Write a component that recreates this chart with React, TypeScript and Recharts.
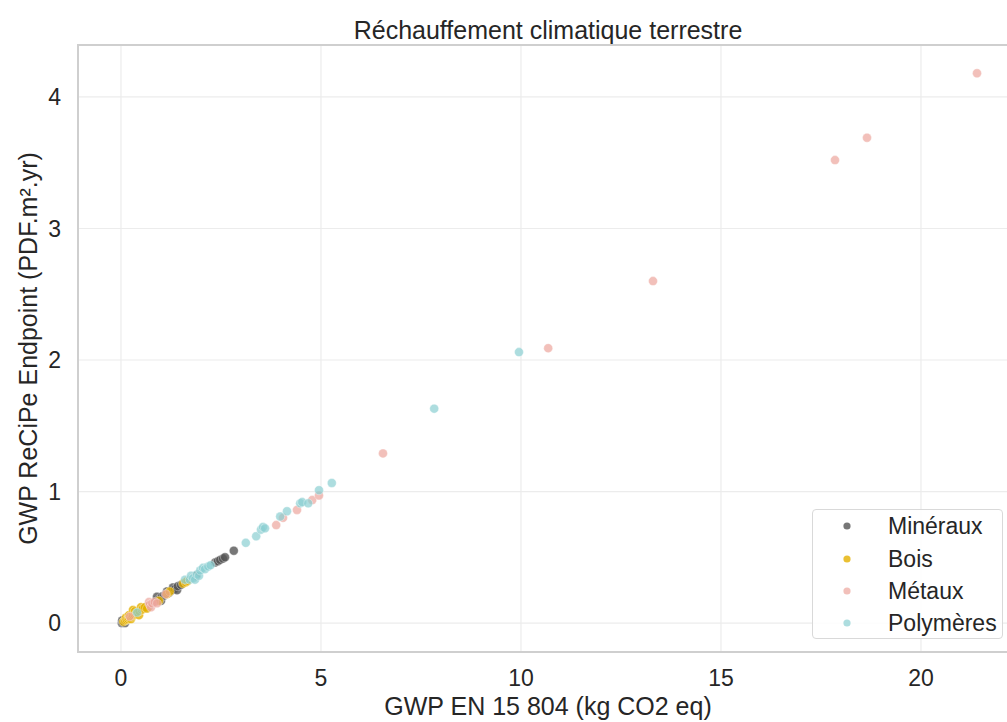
import {
  ScatterChart,
  Scatter,
  XAxis,
  YAxis,
  CartesianGrid,
  Legend,
  ReferenceArea,
} from 'recharts';

// [GWP EN 15 804, GWP ReCiPe Endpoint]
const mineraux = [
  [0.02, 0.0], [0.03, 0.02], [0.05, 0.005], [0.08, 0.01], [0.1, 0.0],
  [0.12, 0.02], [0.35, 0.07], [0.62, 0.12], [0.7, 0.13], [0.88, 0.17],
  [0.9, 0.2], [0.95, 0.18], [1.0, 0.17], [1.02, 0.2], [1.08, 0.21],
  [1.15, 0.24], [1.2, 0.23], [1.28, 0.25], [1.3, 0.27], [1.35, 0.26],
  [1.4, 0.25], [1.42, 0.28], [1.5, 0.29], [1.88, 0.36], [2.35, 0.46],
  [2.42, 0.47], [2.48, 0.48], [2.55, 0.49], [2.6, 0.5], [2.82, 0.55],
];

const bois = [
  [0.06, 0.01], [0.1, 0.02], [0.12, 0.04], [0.14, 0.025], [0.18, 0.03],
  [0.2, 0.04], [0.2, 0.06], [0.24, 0.045], [0.25, 0.03], [0.28, 0.05],
  [0.3, 0.06], [0.3, 0.1], [0.34, 0.065], [0.35, 0.09], [0.38, 0.07],
  [0.42, 0.08], [0.45, 0.06], [0.46, 0.09], [0.5, 0.12], [0.52, 0.1],
  [0.55, 0.11], [0.6, 0.12], [0.65, 0.11], [0.95, 0.17], [1.15, 0.22],
  [1.22, 0.24], [1.55, 0.3], [1.62, 0.31], [1.66, 0.32],
];

const metaux = [
  [0.22, 0.05], [0.7, 0.16], [0.72, 0.14], [0.75, 0.12], [0.78, 0.15],
  [0.84, 0.16], [0.9, 0.15], [1.12, 0.22], [3.88, 0.745], [4.05, 0.8],
  [4.4, 0.86], [4.78, 0.935], [4.95, 0.97], [6.55, 1.29], [10.68, 2.09],
  [13.3, 2.6], [17.85, 3.52], [18.65, 3.69], [21.4, 4.18],
];

const polymeres = [
  [0.4, 0.08], [1.6, 0.33], [1.72, 0.33], [1.75, 0.36], [1.8, 0.34],
  [1.85, 0.33], [1.9, 0.37], [1.95, 0.36], [1.98, 0.4], [2.05, 0.42],
  [2.1, 0.41], [2.18, 0.43], [2.24, 0.44], [3.12, 0.61], [3.38, 0.66],
  [3.5, 0.71], [3.55, 0.73], [3.6, 0.72], [3.98, 0.81], [4.15, 0.85],
  [4.48, 0.91], [4.53, 0.92], [4.68, 0.91], [4.95, 1.01], [5.27, 1.065],
  [7.83, 1.63], [9.95, 2.06],
];

const xTicks = [0, 5, 10, 15, 20];
const yTicks = [0, 1, 2, 3, 4];
const xDomain: [number, number] = [-1.075, 22.425];
const yDomain: [number, number] = [-0.22, 4.395];

const FONT = '"Liberation Sans", Arial, sans-serif';
const TEXT = '#262626';

const series = [
  { name: 'Minéraux', data: mineraux, color: '#555555', opacity: 0.8 },
  { name: 'Bois', data: bois, color: '#e5b000', opacity: 0.8 },
  { name: 'Métaux', data: metaux, color: '#eda59c', opacity: 0.7 },
  { name: 'Polymères', data: polymeres, color: '#8acfd2', opacity: 0.7 },
];

const toPoints = (rows: number[][]) => rows.map(([x, y]) => ({ x, y }));

const dot = (color: string, opacity: number) => (props: any) => (
  <circle
    cx={props.cx}
    cy={props.cy}
    r={4.5}
    fill={color}
    fillOpacity={opacity}
    stroke="#ffffff"
    strokeOpacity={0.6}
    strokeWidth={0.6}
  />
);

const LegendBox = () => (
  <div
    style={{
      width: 191,
      height: 130,
      boxSizing: 'border-box',
      background: 'rgba(255,255,255,0.85)',
      border: '1px solid #d9d9d9',
      borderRadius: 4,
      fontFamily: FONT,
      fontSize: 23,
      color: TEXT,
    }}
  >
    {series.map((s) => (
      <div key={s.name} style={{ display: 'flex', alignItems: 'center', height: 32.4 }}>
        <svg width={75} height={32} style={{ flex: 'none' }}>
          <circle cx={34} cy={16} r={3.6} fill={s.color} fillOpacity={s.opacity} />
        </svg>
        <span style={{ lineHeight: '32px' }}>{s.name}</span>
      </div>
    ))}
  </div>
);

export default function App() {
  return (
    <div
      style={{
        position: 'absolute',
        left: 0,
        top: 0,
        width: 1007,
        height: 722,
        overflow: 'hidden',
        background: '#ffffff',
      }}
    >
      <div
        style={{
          position: 'absolute',
          left: 548,
          top: 18,
          transform: 'translateX(-50%)',
          whiteSpace: 'nowrap',
          fontFamily: FONT,
          fontSize: 25,
          lineHeight: '25px',
          color: TEXT,
        }}
      >
        Réchauffement climatique terrestre
      </div>
      <ScatterChart
        width={1030}
        height={722}
        margin={{ top: 45, right: 12, bottom: 0, left: 0 }}
      >
        <CartesianGrid stroke="#ececec" strokeWidth={1.2} />
        <XAxis
          type="number"
          dataKey="x"
          domain={xDomain}
          ticks={xTicks}
          allowDataOverflow
          height={70}
          axisLine={false}
          tickLine={false}
          tickSize={0}
          tickMargin={18}
          tick={{ fill: TEXT, fontSize: 23, fontFamily: FONT }}
          label={{
            content: (p: any) => {
              const { x, y, width } = p.viewBox;
              return (
                <text
                  x={x + width / 2}
                  y={y + 63}
                  textAnchor="middle"
                  fill={TEXT}
                  fontSize={25}
                  fontFamily={FONT}
                >
                  GWP EN 15 804 (kg CO2 eq)
                </text>
              );
            },
          }}
        />
        <YAxis
          type="number"
          dataKey="y"
          domain={yDomain}
          ticks={yTicks}
          allowDataOverflow
          width={78}
          axisLine={false}
          tickLine={false}
          tickSize={0}
          tickMargin={17}
          tick={{ fill: TEXT, fontSize: 23, fontFamily: FONT }}
          label={{
            content: (p: any) => {
              const { x, y, height } = p.viewBox;
              const cx = x + 37;
              const cy = y + height / 2;
              return (
                <text
                  x={cx}
                  y={cy}
                  transform={`rotate(-90 ${cx} ${cy})`}
                  textAnchor="middle"
                  fill={TEXT}
                  fontSize={25}
                  fontFamily={FONT}
                >
                  GWP ReCiPe Endpoint (PDF.m².yr)
                </text>
              );
            },
          }}
        />
        <ReferenceArea
          x1={xDomain[0]}
          x2={xDomain[1]}
          y1={yDomain[0]}
          y2={yDomain[1]}
          fill="none"
          stroke="#cfcfcf"
          strokeWidth={2}
        />
        {series.map((s) => (
          <Scatter
            key={s.name}
            name={s.name}
            data={toPoints(s.data)}
            fill={s.color}
            shape={dot(s.color, s.opacity)}
            isAnimationActive={false}
          />
        ))}
        <Legend
          layout="vertical"
          align="center"
          verticalAlign="middle"
          content={<LegendBox />}
          wrapperStyle={{ left: 812, top: 509, width: 191, height: 130 }}
        />
      </ScatterChart>
    </div>
  );
}
